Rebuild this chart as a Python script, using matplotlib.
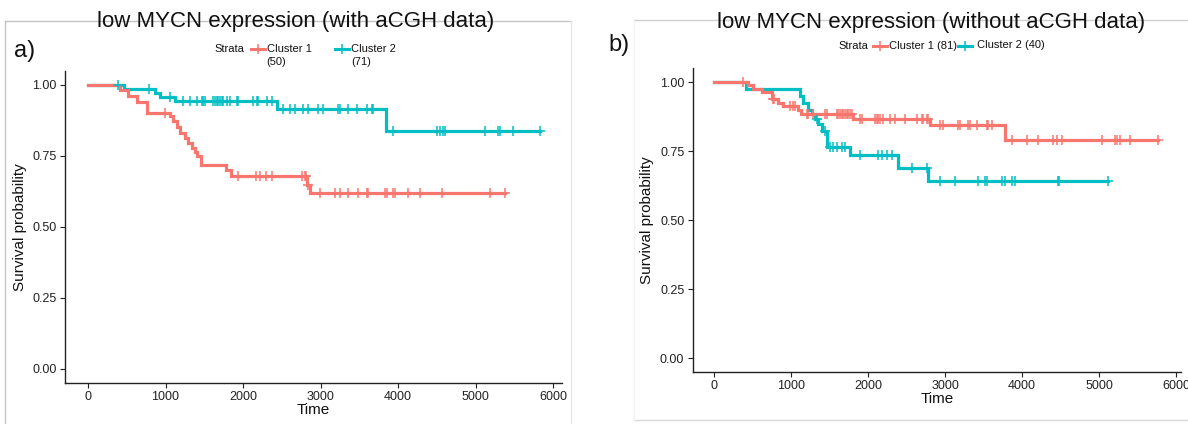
import numpy as np
import matplotlib
matplotlib.use("Agg")
import matplotlib.pyplot as plt
from matplotlib.lines import Line2D

plt.rcParams['font.family'] = ['Liberation Sans', 'DejaVu Sans']

# ---------------- data ----------------
titles = ["low MYCN expression (with aCGH data)", "low MYCN expression (without aCGH data)"]
panel_tags = ["a)", "b)"]
xticks = [0, 1000, 2000, 3000, 4000, 5000, 6000]
xtick_labels = ["0", "1000", "2000", "3000", "4000", "5000", "6000"]
yticks = [0.00, 0.25, 0.50, 0.75, 1.00]
ytick_labels = ["0.00", "0.25", "0.50", "0.75", "1.00"]
legend_a = ["Cluster 1\n(50)", "Cluster 2\n(71)"]
legend_b = ["Cluster 1 (81)", "Cluster 2 (40)"]

# panel a) cluster 1 (red)
a1_event_t = [413, 520, 628, 757, 1058, 1101, 1144, 1187, 1252, 1295, 1338, 1381, 1411, 1454,
              1777, 1841, 2822, 2862]
a1_surv = [0.980, 0.960, 0.940, 0.900, 0.888, 0.871, 0.850, 0.830, 0.812, 0.795, 0.777, 0.764,
           0.748, 0.718, 0.698, 0.677, 0.648, 0.619]
a1_cens_t = [993, 1940, 2168, 2219, 2297, 2370, 2757, 2795, 2812, 2843, 2994, 3187, 3252, 3359,
             3488, 3596, 3617, 3832, 3854, 3940, 3961, 4133, 4284, 4563, 5187, 5381]
# panel a) cluster 2 (teal)
a2_event_t = [465, 870, 930, 1123, 2434, 3845]
a2_surv = [0.986, 0.972, 0.958, 0.944, 0.914, 0.838]
a2_cens_t = [385, 790, 1058, 1230, 1316, 1402, 1467, 1488, 1510, 1617, 1639, 1660, 1682, 1703,
             1725, 1746, 1789, 1832, 1918, 1940, 2133, 2176, 2198, 2305, 2370, 2520, 2606, 2671,
             2778, 2843, 2972, 3037, 3230, 3252, 3359, 3467, 3596, 3660, 3682, 3940, 4499, 4542,
             4585, 4606, 5123, 5295, 5316, 5488, 5830]

# panel b) cluster 1 (red)
b1_event_t = [446, 511, 619, 749, 835, 900, 1095, 1126, 1810, 2805, 3779]
b1_surv = [0.988, 0.975, 0.963, 0.938, 0.925, 0.912, 0.898, 0.886, 0.868, 0.845, 0.789]
b1_cens_t = [381, 765, 780, 985, 1028, 1050, 1203, 1225, 1290, 1442, 1463, 1593, 1615, 1636,
             1658, 1680, 1701, 1723, 1745, 1766, 1788, 1896, 1918, 2091, 2113, 2134, 2156,
             2199, 2286, 2351, 2481, 2632, 2697, 2719, 2762, 2784, 2935, 2978, 3173, 3195,
             3303, 3325, 3411, 3541, 3563, 3606, 3866, 4061, 4212, 4407, 4450, 4515, 5035,
             5208, 5229, 5273, 5403, 5760]
# panel b) cluster 2 (teal)
b2_event_t = [416, 1117, 1160, 1225, 1268, 1312, 1355, 1398, 1463, 1766, 2394, 2784]
b2_surv = [0.975, 0.950, 0.925, 0.900, 0.884, 0.866, 0.847, 0.823, 0.764, 0.738, 0.690, 0.642]
b2_cens_t = [1333, 1442, 1506, 1550, 1593, 1658, 1701, 1896, 2134, 2178, 2243, 2308, 2567,
             2762, 2935, 3130, 3433, 3520, 3541, 3736, 3779, 3866, 3909, 4472, 4485, 5120]

RED = "#F8766D"
TEAL = "#00BFC4"

W, H = 1188, 424
fig = plt.figure(figsize=(W / 100, H / 100), dpi=100)


def fx(px):
    return px / W


def fy(py):
    return 1 - py / H


def surv_at(ev_t, sv, t):
    ev_t = np.asarray(ev_t)
    sv = np.asarray(sv)
    idx = np.searchsorted(ev_t, t, side='right')
    return np.where(idx == 0, 1.0, sv[np.maximum(idx - 1, 0)])


def draw_km(ax, ev_t, sv, cens_t, color):
    end = max(cens_t[-1], ev_t[-1])
    xs = np.r_[0, ev_t, end]
    ys = np.r_[1.0, sv, sv[-1]]
    ax.step(xs, ys, where='post', color=color, lw=2.3, solid_joinstyle='miter', zorder=3)
    cy = surv_at(ev_t, sv, np.asarray(cens_t))
    ax.plot(cens_t, cy, ls='none', marker='+', ms=7, mew=1.1, color=color, zorder=4)


def style_axes(ax, xlim, ylim):
    ax.set_xlim(*xlim)
    ax.set_ylim(*ylim)
    for s in ['top', 'right']:
        ax.spines[s].set_visible(False)
    for s in ['left', 'bottom']:
        ax.spines[s].set_color('#222222')
        ax.spines[s].set_linewidth(1.0)
    ax.set_xticks(xticks)
    ax.set_xticklabels(xtick_labels)
    ax.set_yticks(yticks)
    ax.set_yticklabels(ytick_labels)
    ax.tick_params(axis='both', length=3.5, width=0.8, color='#222222', labelsize=9,
                   labelcolor='#222222', pad=2.5)
    ax.set_xlabel("Time", fontsize=11, labelpad=0, color='#111111')
    ax.set_ylabel("Survival probability", fontsize=11, labelpad=4, color='#111111')
    ax.set_facecolor('white')


# ---- left panel ----
axL = fig.add_axes([fx(65), fy(383), fx(562) - fx(65), fy(71) - fy(383)])
draw_km(axL, a2_event_t, a2_surv, a2_cens_t, TEAL)
draw_km(axL, a1_event_t, a1_surv, a1_cens_t, RED)
style_axes(axL, (-297, 6116), (-0.051, 1.048))

# ---- right panel ----
axR = fig.add_axes([fx(692.7), fy(372), fx(1181) - fx(692.7), fy(68) - fy(372)])
draw_km(axR, b2_event_t, b2_surv, b2_cens_t, TEAL)
draw_km(axR, b1_event_t, b1_surv, b1_cens_t, RED)
style_axes(axR, (-277, 6065), (-0.049, 1.051))


# ---- frames ----
def fline(x0, y0, x1, y1, color, lw=1.0):
    fig.add_artist(Line2D([fx(x0), fx(x1)], [fy(y0), fy(y1)], transform=fig.transFigure,
                          color=color, lw=lw, zorder=0))


fline(5, 21, 571, 21, '#c4c4c4')
fline(5, 21, 5, 424, '#c4c4c4')
fline(571, 21, 571, 424, '#e6e6e6')
fline(634, 19.5, 1188, 19.5, '#cfcfcf')
fline(634, 420, 1188, 420, '#d8d8d8')
fline(634, 19.5, 634, 420, '#f2f2f2')

# ---- titles & tags ----
fig.text(fx(296), fy(27.3), titles[0], ha='center', va='baseline', fontsize=16, color='#111111')
fig.text(fx(931), fy(28.3), titles[1], ha='center', va='baseline', fontsize=16, color='#111111')
fig.text(fx(14), fy(57), panel_tags[0], ha='left', va='baseline', fontsize=17, color='#111111')
fig.text(fx(608), fy(51.5), panel_tags[1], ha='left', va='baseline', fontsize=17, color='#111111')


# ---- legends ----
def key(xc, yc, color):
    fig.add_artist(Line2D([fx(xc - 7), fx(xc + 7)], [fy(yc), fy(yc)], transform=fig.transFigure,
                          color=color, lw=2.2))
    fig.add_artist(Line2D([fx(xc)], [fy(yc)], transform=fig.transFigure, ls='none',
                          marker='+', ms=7, mew=1.1, color=color))


LFS = 8
fig.text(fx(214), fy(48.6), "Strata", ha='left', va='center', fontsize=LFS, color='#111111')
key(258, 48.6, RED)
fig.text(fx(267), fy(48.6), legend_a[0].split("\n")[0], ha='left', va='center', fontsize=LFS, color='#111111')
fig.text(fx(266), fy(62.4), legend_a[0].split("\n")[1], ha='left', va='center', fontsize=LFS, color='#111111')
key(342, 48.6, TEAL)
fig.text(fx(351), fy(48.6), legend_a[1].split("\n")[0], ha='left', va='center', fontsize=LFS, color='#111111')
fig.text(fx(351), fy(62.4), legend_a[1].split("\n")[1], ha='left', va='center', fontsize=LFS, color='#111111')

fig.text(fx(838), fy(45.7), "Strata", ha='left', va='center', fontsize=LFS, color='#111111')
key(880, 45.7, RED)
fig.text(fx(889), fy(45.7), legend_b[0], ha='left', va='center', fontsize=LFS, color='#111111')
key(965, 45.7, TEAL)
fig.text(fx(977), fy(44.5), legend_b[1], ha='left', va='center', fontsize=LFS, color='#111111')

fig.savefig("out.png", dpi=100, facecolor='white')
